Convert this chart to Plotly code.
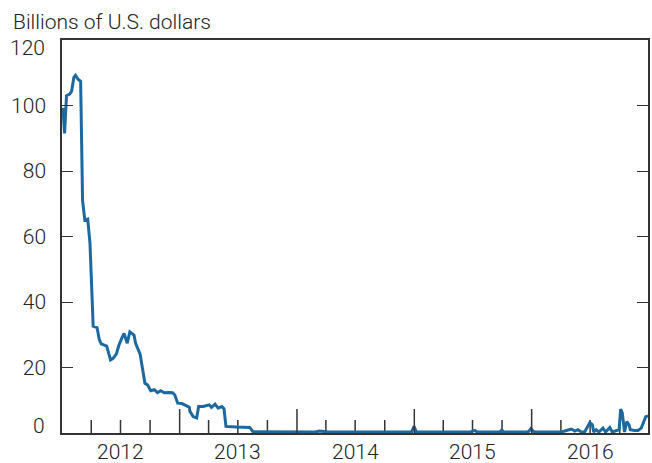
import plotly.graph_objects as go

# Weekly readings (approximate)
dates = [
    "2012-01-04", "2012-01-09", "2012-01-15", "2012-01-25", "2012-01-31", "2012-02-07",
    "2012-02-12", "2012-02-20", "2012-02-28", "2012-03-05", "2012-03-12", "2012-03-21",
    "2012-03-28", "2012-04-07", "2012-04-19", "2012-04-26", "2012-05-02", "2012-05-12",
    "2012-05-19", "2012-05-31", "2012-06-08", "2012-06-18", "2012-06-26", "2012-07-06",
    "2012-07-12", "2012-07-22", "2012-07-30", "2012-08-12", "2012-08-17", "2012-08-31",
    "2012-09-15", "2012-09-23", "2012-10-03", "2012-10-14", "2012-10-24", "2012-11-03",
    "2012-11-14", "2012-11-28", "2012-12-10", "2012-12-17", "2012-12-26", "2013-01-08",
    "2013-01-21", "2013-01-31", "2013-02-02", "2013-02-12", "2013-02-23", "2013-03-01",
    "2013-03-15", "2013-04-03", "2013-04-10", "2013-04-21", "2013-05-01", "2013-05-12",
    "2013-05-19", "2013-05-25", "2013-06-27", "2013-08-07", "2013-08-17", "2013-10-15",
    "2013-12-31", "2014-02-26", "2014-03-12", "2014-03-26", "2014-04-09", "2014-07-02",
    "2014-10-01", "2014-12-17", "2014-12-24", "2014-12-31", "2015-01-07", "2015-01-14",
    "2015-03-25", "2015-04-01", "2015-04-08", "2015-06-24", "2015-07-01", "2015-07-08",
    "2015-07-15", "2015-09-23", "2015-09-30", "2015-10-07", "2015-12-16", "2015-12-23",
    "2015-12-30", "2016-01-06", "2016-01-13", "2016-04-03", "2016-04-26", "2016-05-04",
    "2016-05-14", "2016-05-24", "2016-06-04", "2016-06-14", "2016-06-30", "2016-07-08",
    "2016-07-12", "2016-07-20", "2016-07-28", "2016-08-10", "2016-08-18", "2016-08-25",
    "2016-08-31", "2016-09-08", "2016-09-20", "2016-09-29", "2016-10-04", "2016-10-09",
    "2016-10-16", "2016-10-23", "2016-10-30", "2016-11-03", "2016-11-16", "2016-11-27",
    "2016-12-07", "2016-12-21", "2016-12-28",
]
values = [
    99.3, 91.5, 103.0, 103.5, 104.4, 108.6,
    109.2, 108.0, 107.4, 71.0, 65.0, 65.3,
    58.0, 32.6, 32.2, 28.5, 27.2, 26.8,
    26.5, 22.3, 22.8, 24.1, 26.8, 29.2,
    30.4, 27.4, 30.9, 29.9, 27.4, 24.1,
    15.2, 14.7, 12.9, 13.2, 12.3, 12.9,
    12.3, 12.4, 12.3, 11.6, 9.1, 9.0,
    8.3, 7.9, 6.6, 5.0, 4.6, 8.1,
    8.1, 8.6, 7.8, 8.8, 7.6, 8.1,
    7.4, 2.0, 1.8, 1.7, 0.4, 0.3,
    0.3, 0.3, 0.6, 0.5, 0.3, 0.3,
    0.3, 0.3, 0.4, 2.0, 0.4, 0.3,
    0.3, 0.5, 0.3, 0.3, 0.6, 0.8,
    0.3, 0.3, 0.9, 0.3, 0.3, 0.5,
    1.4, 0.5, 0.3, 0.3, 1.0, 1.2,
    0.6, 1.0, 0.3, 0.3, 3.2, 2.5,
    0.3, 1.0, 0.3, 1.5, 0.3, 1.0,
    1.7, 0.3, 0.8, 1.0, 7.3, 6.1,
    0.3, 3.5, 2.5, 1.0, 0.8, 0.8,
    1.5, 5.0, 5.2,
]

year_starts = ["2013-01-01", "2014-01-01", "2015-01-01", "2016-01-01"]
quarter_starts = [
    "2012-04-01", "2012-07-01", "2012-10-01",
    "2013-04-01", "2013-07-01", "2013-10-01",
    "2014-04-01", "2014-07-01", "2014-10-01",
    "2015-04-01", "2015-07-01", "2015-10-01",
    "2016-04-01", "2016-07-01", "2016-10-01",
]
year_mids = ["2012-07-01", "2013-07-01", "2014-07-01", "2015-07-01", "2016-07-01"]
year_labels = ["2012", "2013", "2014", "2015", "2016"]
y_ticks = [0, 20, 40, 60, 80, 100, 120]
y_title = "Billions of U.S. dollars"

X_RANGE = ["2012-01-01", "2016-12-28"]
Y_RANGE = [0, 120]
FONT = "Roboto"
FS = 21
TEXT = "#222222"
AXIS = "#333333"
PLOT_H = 393  # plot area height in px (463 - 40 - 30)
PX = (Y_RANGE[1] - Y_RANGE[0]) / PLOT_H  # data units per pixel on the y axis

fig = go.Figure()

# short quarter ticks, pointing up from the x axis (tick styling, drawn as one path)
tick_x, tick_y = [], []
for q in quarter_starts:
    tick_x += [q, q, None]
    tick_y += [Y_RANGE[0], Y_RANGE[0] + 13 * PX, None]
fig.add_trace(go.Scatter(
    x=tick_x, y=tick_y, mode="lines", line=dict(color=AXIS, width=1.5),
    hoverinfo="skip", showlegend=False, cliponaxis=False,
))

fig.add_trace(go.Scatter(
    x=dates, y=values, mode="lines",
    line=dict(color="#1b69a0", width=3),
    hoverinfo="skip", showlegend=False,
))

fig.update_layout(
    width=652, height=463,
    margin=dict(l=62, r=4, t=40, b=30, pad=0, autoexpand=False),
    paper_bgcolor="white", plot_bgcolor="white",
    font=dict(family=FONT, size=FS, color=TEXT, weight=300),
    showlegend=False,
)

fig.update_xaxes(
    type="date", automargin=False, range=X_RANGE,
    showgrid=False, zeroline=False,
    showline=True, linecolor=AXIS, linewidth=1.5, mirror=True,
    showticklabels=False, ticks="",
)

# long ticks at year boundaries
for xv in year_starts:
    fig.add_shape(type="line", xref="x", yref="paper", x0=xv, x1=xv, y0=0, y1=24 / PLOT_H,
                  line=dict(color=AXIS, width=1.5), layer="above")

# end labels (0 and 120) are nudged inside the frame, as in the reference
inner_ticks = [v for v in y_ticks if v not in (0, 120)]
fig.update_yaxes(
    automargin=False,
    range=Y_RANGE,
    tickvals=y_ticks, ticktext=[str(v) if v in inner_ticks else "" for v in y_ticks],
    showgrid=False, zeroline=False,
    showline=True, linecolor=AXIS, linewidth=1.5, mirror="ticks",
    ticks="inside", ticklen=11, tickwidth=1.3, tickcolor=AXIS,
    ticklabelstandoff=10,
    tickfont=dict(family=FONT, size=FS, color=TEXT, weight=300),
)

for v, shift in ((0, 7), (120, -8)):
    fig.add_annotation(
        text=str(v), xref="paper", yref="y", x=-15 / 586, y=v,
        xanchor="right", yanchor="middle", yshift=shift, showarrow=False,
        font=dict(family=FONT, size=FS, color=TEXT, weight=300),
    )

for xm, lab in zip(year_mids, year_labels):
    fig.add_annotation(
        text=lab, xref="x", yref="paper", x=xm, y=-19 / PLOT_H,
        xanchor="center", yanchor="middle", showarrow=False,
        font=dict(family=FONT, size=FS, color=TEXT, weight=300),
    )

fig.add_annotation(
    text=y_title, xref="paper", yref="paper",
    x=-51 / 586, y=1 + 32 / PLOT_H, xanchor="left", yanchor="top",
    showarrow=False, font=dict(family=FONT, size=FS, color=TEXT, weight=300),
)

fig.write_html(
    "out.html",
    config={"displayModeBar": False},
    post_script="document.body.style.margin='0';document.body.style.overflow='hidden';",
)
